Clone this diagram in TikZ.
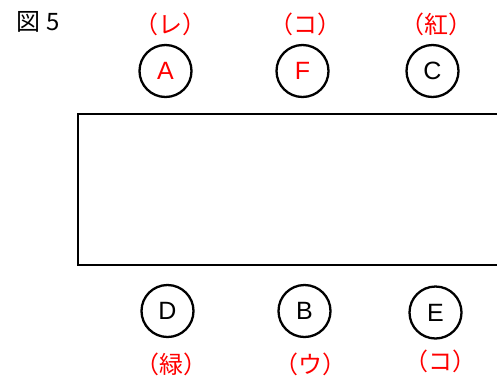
\documentclass[tikz,border=0pt]{standalone}
\usepackage{fontspec}
\newfontfamily\jp{Noto Sans CJK JP}
\setsansfont{Liberation Sans}
\begin{document}
\begin{tikzpicture}[x=1pt,y=-1pt,
  ring/.style={circle,draw=black,line width=2.3pt,minimum size=52pt,inner sep=0pt,font=\sffamily\fontsize{25}{25}\selectfont},
  lab/.style={text=red,font=\jp\fontsize{24}{24}\selectfont,inner sep=0pt},
  box/.style={draw=black,line width=2.5pt}]
\useasboundingbox (0,0) rectangle (497,381);
\node[font=\jp\fontsize{24}{24}\selectfont,inner sep=0pt] (title) at (38,22) {図 5};
\draw[box] (510,114) -- (78,114) -- (78,265) -- (510,265);
\node[ring,text=red] (A) at (165.5,71) {A};
\node[ring,text=red] (F) at (302.5,71) {F};
\node[ring] (C) at (432.5,71) {C};
\node[ring] (D) at (167.5,311) {D};
\node[ring] (B) at (304.5,311) {B};
\node[ring] (E) at (435.5,312.5) {E};
\node[lab] (lA) at (170,24) {（レ）};
\node[lab] (lF) at (305.5,24) {（コ）};
\node[lab] (lC) at (436,24) {（紅）};
\node[lab] (lD) at (171,364) {（緑）};
\node[lab] (lB) at (310,364) {（ウ）};
\node[lab] (lE) at (440,361) {（コ）};
\end{tikzpicture}
\end{document}
